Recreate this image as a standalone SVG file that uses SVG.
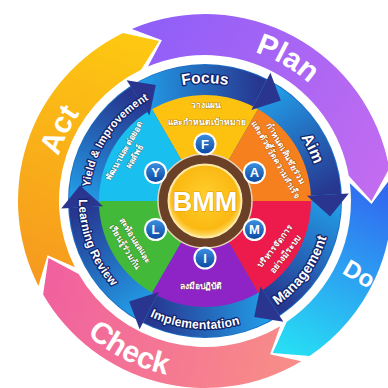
<svg xmlns="http://www.w3.org/2000/svg" width="388" height="388" viewBox="0 0 388 388">
<defs>
<linearGradient id="gPlan" gradientUnits="userSpaceOnUse" x1="130" y1="30" x2="380" y2="180"><stop offset="0" stop-color="#8d5ef8"/><stop offset="1" stop-color="#c26cf0"/></linearGradient>
<linearGradient id="gDo" gradientUnits="userSpaceOnUse" x1="375" y1="185" x2="290" y2="350"><stop offset="0" stop-color="#3168f0"/><stop offset="1" stop-color="#27dcf3"/></linearGradient>
<linearGradient id="gCheck" gradientUnits="userSpaceOnUse" x1="290" y1="345" x2="45" y2="275"><stop offset="0" stop-color="#f88c88"/><stop offset="1" stop-color="#f0609f"/></linearGradient>
<linearGradient id="gAct" gradientUnits="userSpaceOnUse" x1="50" y1="280" x2="140" y2="40"><stop offset="0" stop-color="#f69a1f"/><stop offset="1" stop-color="#fdc811"/></linearGradient>
<linearGradient id="b1" gradientUnits="userSpaceOnUse" x1="139.1" y1="99.5" x2="259.9" y2="93.2"><stop offset="0" stop-color="#22a0ea"/><stop offset="1" stop-color="#27368f"/></linearGradient>
<linearGradient id="b2" gradientUnits="userSpaceOnUse" x1="259.9" y1="93.2" x2="325.8" y2="194.7"><stop offset="0" stop-color="#22a0ea"/><stop offset="1" stop-color="#27368f"/></linearGradient>
<linearGradient id="b3" gradientUnits="userSpaceOnUse" x1="325.8" y1="194.7" x2="270.9" y2="302.5"><stop offset="0" stop-color="#22a0ea"/><stop offset="1" stop-color="#27368f"/></linearGradient>
<linearGradient id="b4" gradientUnits="userSpaceOnUse" x1="270.9" y1="302.5" x2="150.1" y2="308.8"><stop offset="0" stop-color="#22a0ea"/><stop offset="1" stop-color="#27368f"/></linearGradient>
<linearGradient id="b5" gradientUnits="userSpaceOnUse" x1="150.1" y1="308.8" x2="84.2" y2="207.3"><stop offset="0" stop-color="#22a0ea"/><stop offset="1" stop-color="#27368f"/></linearGradient>
<linearGradient id="b6" gradientUnits="userSpaceOnUse" x1="84.2" y1="207.3" x2="139.1" y2="99.5"><stop offset="0" stop-color="#22a0ea"/><stop offset="1" stop-color="#27368f"/></linearGradient>
<radialGradient id="gCore" cx="0.5" cy="0.45" r="0.55"><stop offset="0" stop-color="#ffcf2e"/><stop offset="0.8" stop-color="#fbb812"/><stop offset="1" stop-color="#ffe27a"/></radialGradient>
<linearGradient id="gBadge" x1="0" y1="0" x2="0" y2="1"><stop offset="0" stop-color="#3b8fe0"/><stop offset="1" stop-color="#0c4aa3"/></linearGradient>
<path id="pPlan" d="M177.7,46.4 A157,157 0 0 1 352.5,147.3"/>
<path id="pAct" d="M56.5,238.0 A153,153 0 0 1 142.8,61.2"/>
<path id="pCheck" d="M41.2,270.5 A178,178 0 0 0 245.0,374.4"/>
<path id="pFocus" d="M129.2,110.6 A118,118 0 0 1 280.8,110.6"/>
<path id="pAim" d="M251.8,95.9 A115,115 0 0 1 316.6,228.8"/>
<path id="pYield" d="M89.6,213.1 A116,116 0 0 1 173.0,89.5"/>
<path id="pLearn" d="M84.5,164.2 A126,126 0 0 0 147.8,313.3"/>
<path id="pImpl" d="M112.9,289.9 A128,128 0 0 0 276.6,307.1"/>
<path id="pMgmt" d="M235.7,324.2 A127,127 0 0 0 331.7,192.1"/>
</defs>
<style>
.big{font-family:"Liberation Sans",Arial,sans-serif;font-weight:bold;font-size:30px;fill:#fff}
.lab{font-family:"Liberation Sans",Arial,sans-serif;font-weight:bold;fill:#fff;stroke:#14256e;stroke-width:2.6;paint-order:stroke;stroke-linejoin:round}
.th{font-family:"DejaVu Sans","Noto Sans",sans-serif;font-weight:bold;fill:#fff;font-size:8.5px;text-anchor:middle;stroke:rgba(60,20,0,0.35);stroke-width:1.2;paint-order:stroke;stroke-linejoin:round}
.head{fill:#2a3590}
.bw{fill:#fff}
.bb{fill:url(#gBadge)}
.bt{font-family:"Liberation Sans",Arial,sans-serif;font-weight:bold;font-size:13px;fill:#fff;text-anchor:middle}
</style>
<rect width="388" height="388" fill="#fff"/>
<g id="plan"><path d="M131.9,28.9 A187,187 0 0 1 389.2,168.5 L371.5,201 L348.8,175.7 A146,146 0 0 0 148.0,66.6 L161.9,40.2 Z" fill="url(#gPlan)"/>
<text class="big"><textPath href="#pPlan" startOffset="50%" text-anchor="middle">Plan</textPath></text></g>
<g id="do"><path d="M390.6,178.2 A187,187 0 0 1 309.6,356.0 L272.7,353.1 L286.6,322.0 A146,146 0 0 0 349.9,183.2 L371.5,203.9 Z" fill="url(#gDo)"/>
<text class="big" transform="translate(355,281) rotate(30)" text-anchor="middle" style="font-size:24px">Do</text></g>
<g id="check"><path d="M301.3,361.3 A187,187 0 0 1 43.1,294.5 L48.5,257.9 L78.6,274.0 A146,146 0 0 0 280.2,326.2 L270.1,354.3 Z" fill="url(#gCheck)"/>
<text class="big"><textPath href="#pCheck" startOffset="50%" text-anchor="middle">Check</textPath></text></g>
<g id="act"><path d="M38.4,285.9 A187,187 0 0 1 123.0,32.9 L159.1,40.9 L141.0,69.8 A146,146 0 0 0 74.9,267.3 L47.6,255.2 Z" fill="url(#gAct)"/>
<text class="big"><textPath href="#pAct" startOffset="50%" text-anchor="middle">Act</textPath></text></g>
<circle cx="205" cy="201" r="137" fill="#1a6fc4"/>
<g id="segments">
<path d="M205,201 L151,107.5 A108,108 0 0 1 259,107.5 Z" fill="#fdc10f"/>
<path d="M205,201 L259,107.5 A108,108 0 0 1 313,201 Z" fill="#f7801e"/>
<path d="M205,201 L313,201 A108,108 0 0 1 259,294.5 Z" fill="#ec1b4b"/>
<path d="M205,201 L259,294.5 A108,108 0 0 1 151,294.5 Z" fill="#8e24c5"/>
<path d="M205,201 L151,294.5 A108,108 0 0 1 97,201 Z" fill="#43b93a"/>
<path d="M205,201 L97,201 A108,108 0 0 1 151,107.5 Z" fill="#19bfee"/>
</g>
<g id="connectors">
<path d="M130.9,86.9 A136,136 0 0 1 266.7,79.8 L253.1,106.6 A106,106 0 0 0 147.3,112.1 Z" fill="url(#b1)"/>
<path d="M266.7,79.8 A136,136 0 0 1 340.8,193.9 L310.9,195.5 A106,106 0 0 0 253.1,106.6 Z" fill="url(#b2)"/>
<path d="M340.8,193.9 A136,136 0 0 1 279.1,315.1 L262.7,289.9 A106,106 0 0 0 310.9,195.5 Z" fill="url(#b3)"/>
<path d="M279.1,315.1 A136,136 0 0 1 143.3,322.2 L156.9,295.4 A106,106 0 0 0 262.7,289.9 Z" fill="url(#b4)"/>
<path d="M143.3,322.2 A136,136 0 0 1 69.2,208.1 L99.1,206.5 A106,106 0 0 0 156.9,295.4 Z" fill="url(#b5)"/>
<path d="M69.2,208.1 A136,136 0 0 1 130.9,86.9 L147.3,112.1 A106,106 0 0 0 99.1,206.5 Z" fill="url(#b6)"/>
<path class="head" d="M251.3,110.1 L270.4,72.7 L280.8,100.4 Z"/>
<path class="head" d="M306.9,195.7 L348.8,193.5 L330.1,216.4 Z"/>
<path class="head" d="M260.5,286.5 L283.4,321.8 L254.2,317.0 Z"/>
<path class="head" d="M158.7,291.9 L139.6,329.3 L129.2,301.6 Z"/>
<path class="head" d="M103.1,206.3 L61.2,208.5 L79.9,185.6 Z"/>
<path class="head" d="M149.5,115.5 L126.6,80.2 L155.8,85.0 Z"/>
</g>
<g id="ring-labels">
<text class="lab" font-size="15.5"><textPath href="#pFocus" startOffset="50%" text-anchor="middle">Focus</textPath></text>
<text class="lab" font-size="16"><textPath href="#pAim" startOffset="50%" text-anchor="middle">Aim</textPath></text>
<text class="lab" font-size="14"><textPath href="#pMgmt" startOffset="50%" text-anchor="middle">Management</textPath></text>
<text class="lab" font-size="12.5"><textPath href="#pImpl" startOffset="51.5%" text-anchor="middle">Implementation</textPath></text>
<text class="lab" font-size="12"><textPath href="#pLearn" startOffset="47.5%" text-anchor="middle">Learning Review</textPath></text>
<text class="lab" font-size="11"><textPath href="#pYield" startOffset="50%" text-anchor="middle">Yield &amp; Improvement</textPath></text>
</g>
<g id="seg-texts">
<text class="th" x="206" y="108" font-size="9.5">วางแผน</text>
<text class="th" x="207" y="125" font-size="9.5">และกำหนดเป้าหมาย</text>
<text class="th" transform="translate(282,156) rotate(60)"><tspan x="0" y="-2">กำหนดเส้นชัยร่วม</tspan><tspan x="0" y="10">และตัวชี้วัดความสำเร็จ</tspan></text>
<text class="th" transform="translate(279,249) rotate(-52)" font-size="9.5"><tspan x="0" y="-2">บริหารจัดการ</tspan><tspan x="0" y="11">อย่างมีระบบ</tspan></text>
<text class="th" x="201" y="289" font-size="11">ลงมือปฏิบัติ</text>
<text class="th" transform="translate(131,243) rotate(58)" font-size="9"><tspan x="0" y="-2">สะท้อนผลและ</tspan><tspan x="0" y="10">เรียนรู้ร่วมกัน</tspan></text>
<text class="th" transform="translate(128,153) rotate(-60)" font-size="9"><tspan x="0" y="-2">พัฒนาและต่อยอด</tspan><tspan x="0" y="10">ผลลัพธ์</tspan></text>
</g>
<g id="core">
<circle cx="205" cy="201" r="47" fill="#6a4127" stroke="#e8d3b8" stroke-width="1.5"/>
<circle cx="205" cy="201" r="36.5" fill="url(#gCore)" stroke="#ffe9a6" stroke-width="2"/>
<text x="205" y="210.5" text-anchor="middle" font-family="Liberation Sans, Arial, sans-serif" font-weight="bold" font-size="27" fill="#fff" stroke="#e89a00" stroke-width="1" paint-order="stroke">BMM</text>
</g>
<g id="badge-F"><circle class="bw" cx="205" cy="144" r="11.5"/><circle class="bb" cx="205" cy="144" r="9.5"/><text class="bt" x="205" y="148.7">F</text></g>
<g id="badge-A"><circle class="bw" cx="254.4" cy="172.5" r="11.5"/><circle class="bb" cx="254.4" cy="172.5" r="9.5"/><text class="bt" x="254.4" y="177.2">A</text></g>
<g id="badge-M"><circle class="bw" cx="254.4" cy="229.5" r="11.5"/><circle class="bb" cx="254.4" cy="229.5" r="9.5"/><text class="bt" x="254.4" y="234.2">M</text></g>
<g id="badge-I"><circle class="bw" cx="205" cy="258" r="11.5"/><circle class="bb" cx="205" cy="258" r="9.5"/><text class="bt" x="205" y="262.7">I</text></g>
<g id="badge-L"><circle class="bw" cx="155.6" cy="229.5" r="11.5"/><circle class="bb" cx="155.6" cy="229.5" r="9.5"/><text class="bt" x="155.6" y="234.2">L</text></g>
<g id="badge-Y"><circle class="bw" cx="155.6" cy="172.5" r="11.5"/><circle class="bb" cx="155.6" cy="172.5" r="9.5"/><text class="bt" x="155.6" y="177.2">Y</text></g>
</svg>
